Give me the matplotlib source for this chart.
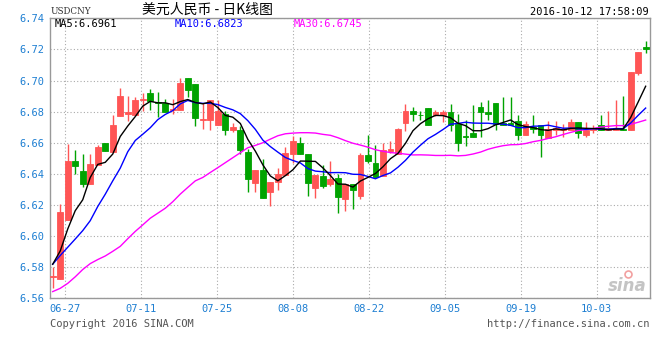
import numpy as np
import pandas as pd
import matplotlib
matplotlib.use("Agg")
import matplotlib.pyplot as plt

# daily candles (06-23 .. 10-12)
opens = [6.5735, 6.5723, 6.6104, 6.6481, 6.6417, 6.6336, 6.6455, 6.6600, 6.6543, 6.6770,
         6.6785, 6.6777, 6.6872, 6.6919, 6.6864, 6.6855, 6.6809, 6.6809, 6.7015, 6.6979,
         6.6745, 6.6749, 6.6713, 6.6787, 6.6685, 6.6685, 6.6540, 6.6340, 6.6423, 6.6285,
         6.6345, 6.6394, 6.6530, 6.6596, 6.6530, 6.6309, 6.6387, 6.6334, 6.6372, 6.6238,
         6.6334, 6.6255, 6.6519, 6.6472, 6.6387, 6.6547, 6.6530, 6.6728, 6.6806, 6.6781,
         6.6823, 6.6777, 6.6777, 6.6798, 6.6721, 6.6645, 6.6660, 6.6830, 6.6796, 6.6855,
         6.6726, 6.6728, 6.6743, 6.6647, 6.6702, 6.6711, 6.6628, 6.6685, 6.6681, 6.6679,
         6.6736, 6.6647, 6.6679, 6.6717, 6.6685, 6.6681, 6.6689, 6.6681, 6.7051, 6.7213]
highs = [6.5802, 6.6206, 6.6589, 6.6553, 6.6526, 6.6526, 6.6583, 6.6600, 6.6781, 6.6955,
         6.6902, 6.6894, 6.6919, 6.6947, 6.6926, 6.6881, 6.6881, 6.7015, 6.7015, 6.6979,
         6.6855, 6.6877, 6.6877, 6.6802, 6.6728, 6.6706, 6.6562, 6.6423, 6.6494, 6.6345,
         6.6440, 6.6570, 6.6643, 6.6638, 6.6530, 6.6391, 6.6455, 6.6483, 6.6398, 6.6334,
         6.6334, 6.6536, 6.6653, 6.6583, 6.6600, 6.6611, 6.6696, 6.6851, 6.6828, 6.6802,
         6.6823, 6.6813, 6.6813, 6.6851, 6.6787, 6.6749, 6.6840, 6.6862, 6.6877, 6.6855,
         6.6894, 6.6894, 6.6781, 6.6738, 6.6781, 6.6717, 6.6738, 6.6743, 6.6723, 6.6755,
         6.6736, 6.6732, 6.6711, 6.6781, 6.6806, 6.6872, 6.6902, 6.7057, 6.7185, 6.7253]
lows = [6.5664, 6.5723, 6.6104, 6.6398, 6.6317, 6.6336, 6.6455, 6.6547, 6.6543, 6.6770,
        6.6738, 6.6777, 6.6806, 6.6813, 6.6766, 6.6798, 6.6787, 6.6809, 6.6891, 6.6706,
        6.6691, 6.6681, 6.6713, 6.6653, 6.6668, 6.6526, 6.6285, 6.6285, 6.6245, 6.6196,
        6.6298, 6.6394, 6.6472, 6.6526, 6.6260, 6.6245, 6.6309, 6.6323, 6.6147, 6.6164,
        6.6174, 6.6238, 6.6468, 6.6377, 6.6387, 6.6532, 6.6530, 6.6674, 6.6743, 6.6749,
        6.6713, 6.6770, 6.6734, 6.6674, 6.6547, 6.6579, 6.6636, 6.6638, 6.6749, 6.6685,
        6.6711, 6.6711, 6.6617, 6.6647, 6.6660, 6.6508, 6.6628, 6.6647, 6.6638, 6.6679,
        6.6628, 6.6636, 6.6660, 6.6685, 6.6685, 6.6681, 6.6681, 6.6681, 6.7034, 6.7174]
closes = [6.5745, 6.6153, 6.6481, 6.6451, 6.6336, 6.6462, 6.6574, 6.6547, 6.6717, 6.6902,
          6.6798, 6.6877, 6.6883, 6.6870, 6.6855, 6.6798, 6.6817, 6.6983, 6.6936, 6.6760,
          6.6755, 6.6877, 6.6802, 6.6685, 6.6702, 6.6553, 6.6366, 6.6423, 6.6245, 6.6345,
          6.6398, 6.6532, 6.6611, 6.6526, 6.6340, 6.6391, 6.6323, 6.6366, 6.6253, 6.6334,
          6.6298, 6.6519, 6.6483, 6.6377, 6.6551, 6.6557, 6.6689, 6.6806, 6.6785, 6.6777,
          6.6713, 6.6798, 6.6798, 6.6717, 6.6600, 6.6636, 6.6636, 6.6796, 6.6785, 6.6723,
          6.6711, 6.6717, 6.6647, 6.6723, 6.6689, 6.6647, 6.6691, 6.6696, 6.6689, 6.6736,
          6.6664, 6.6679, 6.6689, 6.6685, 6.6696, 6.6689, 6.6681, 6.7057, 6.7185, 6.7204]

# moving averages for the first days (history before the window is not shown)
ma5_head = [6.5819, 6.5904, 6.6045, 6.6163]
ma10_head = [6.5819, 6.5875, 6.5928, 6.5981, 6.6035, 6.6099, 6.6190, 6.6269, 6.6355]
ma30_head = [6.5643, 6.5664, 6.5696, 6.5738, 6.5785, 6.5823, 6.5849, 6.5872, 6.5902, 6.5934,
             6.5983, 6.6030, 6.6072, 6.6115, 6.6147, 6.6179, 6.6221, 6.6270, 6.6313, 6.6355,
             6.6377, 6.6409, 6.6440, 6.6472, 6.6504, 6.6536, 6.6568, 6.6583, 6.6600]

tick_labels = ["06-27", "07-11", "07-25", "08-08", "08-22", "09-05", "09-19", "10-03"]
y_ticks = [6.56, 6.58, 6.60, 6.62, 6.64, 6.66, 6.68, 6.70, 6.72, 6.74]

RED = "#ff5555"
GREEN = "#00a300"
BLUE_TXT = "#1e7fd2"
GRAY_TXT = "#555555"
MONO = "DejaVu Sans Mono"


def moving_avg(vals, n, head):
  ma = pd.Series(vals).rolling(n).mean().to_numpy()
  ma[:len(head)] = head
  return ma


def main():
  o = np.array(opens)
  h = np.array(highs)
  l = np.array(lows)
  c = np.array(closes)
  x = np.arange(len(c))
  cols = np.where(c >= o, RED, GREEN)

  fig = plt.figure(figsize=(6.6, 3.6), dpi=100)
  ax = fig.add_axes([50 / 660, 1 - 298.3 / 360, 600 / 660, 280 / 360])

  ax.vlines(x, l, h, colors=cols, linewidth=1.0, zorder=2)
  ax.bar(x, c - o, bottom=o, width=0.78, color=cols, edgecolor=cols,
         linewidth=0.6, zorder=3)

  ax.plot(x, moving_avg(c, 30, ma30_head), color="#ff00ff", lw=1.0, zorder=4)
  ax.plot(x, moving_avg(c, 10, ma10_head), color="#0000ff", lw=1.0, zorder=5)
  ax.plot(x, moving_avg(c, 5, ma5_head), color="black", lw=1.0, zorder=6)

  ax.set_xlim(-0.36, 79.58)
  ax.set_ylim(6.56, 6.74)
  ax.set_yticks(y_ticks)
  ax.set_yticklabels(["%.2f" % v for v in y_ticks])
  # vertical grid is spaced evenly across the panel
  tick_pos = 1.64 + 10.12 * np.arange(len(tick_labels))
  ax.set_xticks(tick_pos)
  ax.set_xticklabels(tick_labels)

  ax.grid(True, color="#aaaaaa", linestyle=(0, (1, 2)), linewidth=0.8, zorder=0)
  ax.set_axisbelow(True)
  for sp in ax.spines.values():
    sp.set_color("#999999")
    sp.set_linewidth(1.0)
  ax.tick_params(length=0, labelcolor=BLUE_TXT, labelsize=7.5, pad=4)
  for lab in ax.get_xticklabels() + ax.get_yticklabels():
    lab.set_family(MONO)

  # header
  fig.text(51 / 660, 1 - 11 / 360, "USDCNY", ha="left", va="center",
           fontsize=7, color="#333333", family="DejaVu Serif", stretch="condensed")
  fig.text(207 / 660, 1 - 10 / 360, "美元人民币 - 日K线图", ha="center", va="center",
           fontsize=10, color="black", family=["Noto Sans CJK SC", "DejaVu Sans"])
  fig.text(649 / 660, 1 - 12 / 360, "2016-10-12 17:58:09", ha="right", va="center",
           fontsize=7.5, color="black", family=MONO)
  fig.text(55 / 660, 1 - 24 / 360, "MA5:6.6961", ha="left", va="center",
           fontsize=7.5, color="black", family=MONO)
  fig.text(175 / 660, 1 - 24 / 360, "MA10:6.6823", ha="left", va="center",
           fontsize=7.5, color="#0000ff", family=MONO)
  fig.text(294 / 660, 1 - 24 / 360, "MA30:6.6745", ha="left", va="center",
           fontsize=7.5, color="#ff00ff", family=MONO)

  # footer
  fig.text(49.5 / 660, 1 - 324 / 360, "Copyright 2016 SINA.COM", ha="left",
           va="center", fontsize=7.5, color=GRAY_TXT, family=MONO)
  fig.text(649.5 / 660, 1 - 324 / 360, "http://finance.sina.com.cn", ha="right",
           va="center", fontsize=7.5, color=GRAY_TXT, family=MONO)

  # faint sina watermark
  fig.text(627 / 660, 1 - 286 / 360, "sina", ha="center", va="center", fontsize=12,
           style="italic", weight="bold", color="#c4c4c4", family="DejaVu Sans")
  ax.plot([628 / 660], [1 - 274 / 360], "o", ms=5, mfc="none", mec="#f2a0a0",
          mew=1.2, transform=fig.transFigure, clip_on=False)

  fig.savefig("out.png", dpi=100)


if __name__ == "__main__":
  main()
